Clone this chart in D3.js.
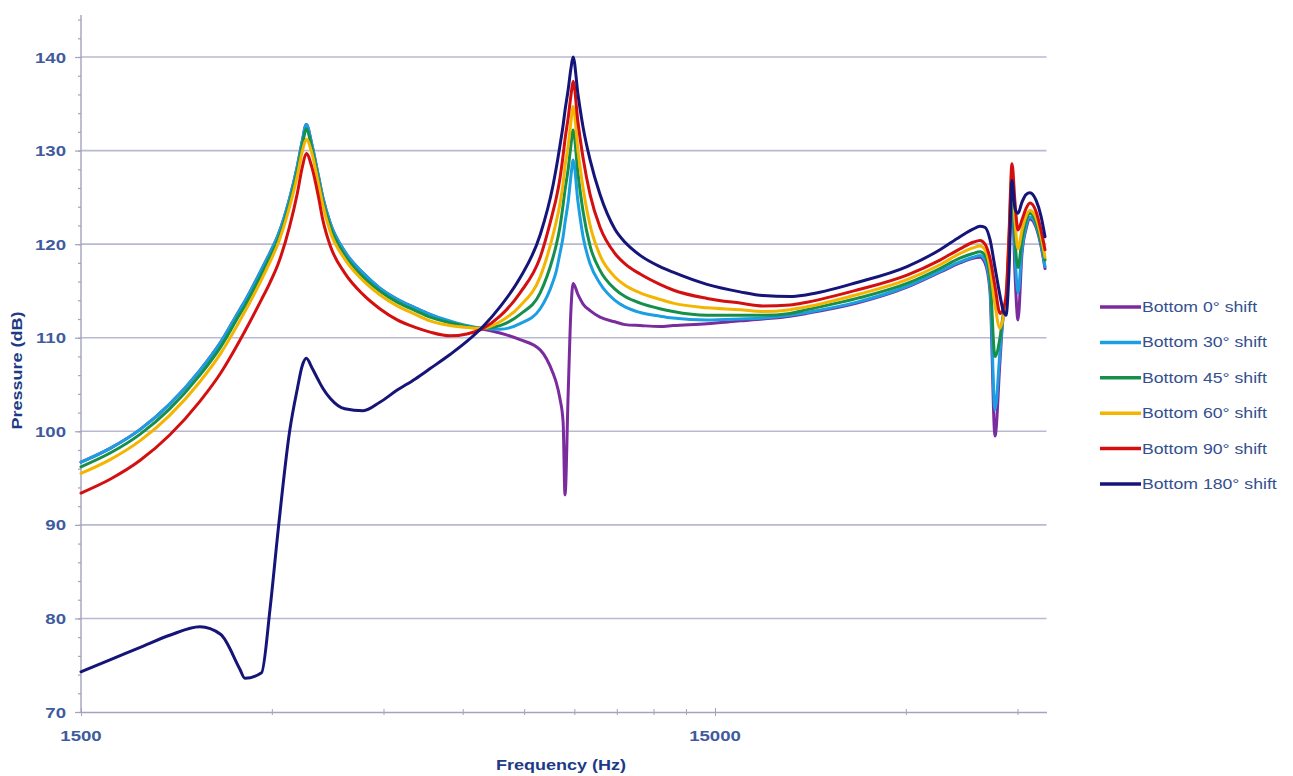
<!DOCTYPE html>
<html>
<head>
<meta charset="utf-8">
<script src="https://cdn.jsdelivr.net/npm/d3@7"></script>
<style>
  html, body { margin: 0; padding: 0; background: #fff; }
  svg { display: block; font-family: "Liberation Sans", Arial, sans-serif; }
</style>
</head>
<body>
<svg id="chart" width="1293" height="776"></svg>
<script>
// Frequency sample points (Hz), shared by all series
const frequency = [
  1500, 1670, 1860, 2070, 2310, 2490, 2670, 2720, 2890, 2980,
  3070, 3200, 3290, 3350, 3400, 3470, 3550, 3610, 3710, 3910,
  4180, 4440, 4730, 5050, 5330, 5730, 6090, 6460, 6870, 7390,
  7950, 8330, 8420, 8540, 8640, 8700, 8800, 8890, 8960, 9120,
  9290, 9530, 9880, 10430, 10820, 11430, 12280, 12880, 14570, 16430,
  17860, 19700, 20950, 25120, 30130, 33960, 36520, 38280, 39270, 39990,
  40720, 41470, 42230, 42690, 43160, 43630, 44110, 44590, 45080, 45740,
  46410, 47090, 48130, 49010, 49730
];

// Sound pressure level (dB) for each bottom phase shift
const shift0 = [
  96.7, 98.2, 100.2, 102.9, 106.5, 109.5, 113.0, 113.9, 117.3, 119.1,
  121.0, 124.9, 128.3, 131.0, 132.8, 130.6, 127.4, 125.0, 122.2, 119.2,
  116.9, 115.3, 114.1, 113.2, 112.5, 111.7, 111.2, 110.9, 110.5, 109.8,
  108.7, 106.2, 105.3, 103.5, 101.0, 93.2, 104.0, 113.0, 115.8, 114.6,
  113.6, 112.9, 112.2, 111.7, 111.4, 111.3, 111.2, 111.3, 111.5, 111.8,
  112.0, 112.3, 112.6, 113.7, 115.4, 117.0, 118.0, 118.5, 118.6, 118.0,
  115.0, 99.5, 107.5, 112.0, 113.0, 119.0, 126.0, 117.0, 111.9, 119.0,
  121.6, 122.7, 121.8, 119.8, 117.4
];
const shift30 = [
  96.7, 98.2, 100.2, 102.9, 106.5, 109.5, 113.0, 113.9, 117.3, 119.1,
  121.0, 124.9, 128.3, 131.0, 132.8, 130.6, 127.4, 125.0, 122.2, 119.2,
  116.9, 115.3, 114.1, 113.2, 112.5, 111.8, 111.3, 111.0, 110.9, 111.5,
  113.1, 116.0, 117.0, 119.0, 120.8, 122.3, 124.5, 127.3, 129.0, 124.5,
  120.8, 117.9, 115.8, 114.0, 113.3, 112.7, 112.3, 112.1, 111.9, 112.0,
  112.1, 112.4, 112.7, 113.8, 115.5, 117.1, 118.1, 118.6, 118.8, 118.3,
  115.5, 102.3, 108.5, 112.0, 113.0, 119.5, 126.3, 119.0, 114.8, 119.5,
  121.9, 122.9, 122.0, 120.0, 117.6
];
const shift45 = [
  96.2, 97.7, 99.7, 102.4, 106.0, 109.0, 112.5, 113.4, 116.8, 118.6,
  120.5, 124.4, 127.8, 130.5, 132.3, 130.2, 127.0, 124.6, 121.8, 118.8,
  116.5, 115.0, 113.8, 112.9, 112.2, 111.6, 111.2, 111.0, 111.3, 112.5,
  114.8, 118.6, 119.8, 121.8, 124.2, 125.8, 128.0, 130.6, 132.2, 127.5,
  123.5, 119.8, 117.2, 115.2, 114.4, 113.7, 113.1, 112.8, 112.4, 112.4,
  112.4, 112.6, 113.0, 114.2, 115.8, 117.4, 118.5, 119.0, 119.2, 118.8,
  116.5, 108.0, 110.0, 112.3, 113.5, 120.0, 127.0, 120.5, 117.5, 120.5,
  122.5, 123.3, 122.3, 120.3, 118.3
];
const shift60 = [
  95.5, 97.0, 99.0, 101.7, 105.3, 108.3, 111.8, 112.8, 116.2, 118.1,
  120.1, 124.0, 127.3, 129.9, 131.2, 129.7, 126.6, 124.2, 121.3, 118.4,
  116.1, 114.6, 113.4, 112.5, 111.8, 111.3, 111.1, 111.0, 111.7, 113.4,
  116.5, 121.0, 122.3, 124.3, 126.5, 128.3, 130.5, 133.1, 134.7, 130.0,
  126.0, 122.0, 118.8, 116.5, 115.6, 114.8, 114.1, 113.7, 113.2, 113.0,
  112.8, 113.0, 113.3, 114.6, 116.2, 117.8, 119.0, 119.6, 119.8, 119.4,
  117.5, 113.5, 111.0, 112.0, 114.0, 120.5, 127.6, 122.5, 119.5, 121.5,
  123.0, 123.6, 122.8, 120.8, 118.6
];
const shift90 = [
  93.4, 94.9, 96.9, 99.6, 103.2, 106.2, 109.7, 110.7, 114.1, 115.9,
  117.9, 121.9, 125.4, 128.2, 129.7, 128.2, 125.2, 122.6, 119.8, 116.9,
  114.6, 113.1, 111.9, 111.1, 110.6, 110.2, 110.4, 111.0, 112.3, 114.8,
  118.6, 123.5, 124.8, 127.0, 129.5, 131.2, 133.5, 135.9, 137.4, 133.0,
  129.2, 125.3, 121.8, 119.0, 117.9, 116.8, 115.7, 115.1, 114.2, 113.7,
  113.4, 113.5, 113.8, 115.1, 116.7, 118.3, 119.5, 120.2, 120.4, 120.0,
  118.5, 115.5, 112.6, 113.0, 114.5, 121.0, 128.6, 124.5, 121.5, 122.6,
  123.8, 124.4, 123.5, 121.5, 119.4
];
const shift180 = [
  74.3, 75.6, 76.9, 78.2, 79.1, 78.3, 74.6, 73.6, 74.2, 81.0,
  89.5, 100.0, 104.5, 107.0, 107.8, 106.8, 105.5, 104.6, 103.5, 102.4,
  102.2, 103.1, 104.4, 105.6, 106.7, 108.2, 109.6, 111.2, 113.3, 116.4,
  121.0, 126.3, 128.0, 130.5, 132.7, 134.3, 136.5, 138.8, 140.0, 136.0,
  132.5, 129.0, 125.3, 121.6, 120.2, 118.8, 117.6, 117.0, 115.7, 114.9,
  114.5, 114.4, 114.6, 115.9, 117.6, 119.4, 120.8, 121.6, 121.9, 121.8,
  120.5, 117.5, 114.5, 113.0, 112.4, 117.0, 126.8, 123.8, 123.3, 124.5,
  125.3, 125.5, 124.7, 123.0, 120.8
];

const seriesNames = [
  "Bottom 0° shift", "Bottom 30° shift", "Bottom 45° shift",
  "Bottom 60° shift", "Bottom 90° shift", "Bottom 180° shift"
];
const seriesValues = [shift0, shift30, shift45, shift60, shift90, shift180];
const seriesColors = ["#7a2c9e", "#1c9fe2", "#15904c", "#f4b400", "#d30f0f", "#141479"];

const yTicks = [70, 80, 90, 100, 110, 120, 130, 140];
const yMinorTicks = d3.range(70, 146, 2);
const xTickLabels = [1500, 15000];
const xMinorTicks = [3000, 4500, 6000, 7500, 9000, 10500, 12000, 13500, 30000, 45000];

const svg = d3.select("#chart");
const left = 81, bottom = 712;

const x = d3.scaleLog().domain([1500, 50000]).range([left, left + 634 * Math.log10(50000 / 1500)]);
const y = d3.scaleLinear().domain([70, 145]).range([bottom, bottom - 75 * 9.357]);

const axisColor = "#a3a3bd";
const gridColor = "#b9b9d0";
const labelColor = "#3f5b9e";
const titleColor = "#1d3a86";
const stretch = 1.2; // text is set slightly wide

// Horizontal gridlines
svg.append("g")
  .selectAll("line")
  .data(yTicks.filter(d => d > 70))
  .join("line")
  .attr("x1", left).attr("x2", x.range()[1])
  .attr("y1", d => y(d)).attr("y2", d => y(d))
  .attr("stroke", gridColor).attr("stroke-width", 1.6);

// Y axis: minor ticks every 2 dB, longer ticks at labelled values
const yAxis = svg.append("g").attr("transform", `translate(${left},0)`);
yAxis.call(d3.axisLeft(y).tickValues(yMinorTicks).tickSize(3).tickFormat(""));
yAxis.select(".domain").remove();
yAxis.selectAll("line").attr("stroke", axisColor).attr("stroke-width", 1.2);
yAxis.append("line")
  .attr("x1", 0).attr("x2", 0)
  .attr("y1", y(70)).attr("y2", y(144.5))
  .attr("stroke", axisColor).attr("stroke-width", 1.4);
const yMajor = svg.append("g").attr("transform", `translate(${left},0)`)
  .call(d3.axisLeft(y).tickValues(yTicks).tickSize(6).tickFormat(""));
yMajor.select(".domain").remove();
yMajor.selectAll("line").attr("stroke", axisColor).attr("stroke-width", 1.2);

svg.append("g")
  .selectAll("text")
  .data(yTicks)
  .join("text")
  .attr("transform", d => `translate(66,${y(d) + 5.5}) scale(${stretch},1)`)
  .attr("text-anchor", "end")
  .attr("fill", labelColor).attr("font-size", 15.5).attr("font-weight", "bold")
  .text(d => d);

// X axis: minor ticks at multiples of 1500 Hz
const xAxis = svg.append("g").attr("transform", `translate(0,${bottom})`);
xAxis.call(d3.axisBottom(x).tickValues(xMinorTicks).tickSizeInner(3).tickSizeOuter(0).tickFormat(""));
xAxis.select(".domain").attr("stroke", axisColor).attr("stroke-width", 1.4);
xAxis.selectAll(".tick line").attr("stroke", axisColor).attr("y1", -3).attr("y2", 3);
const xMajor = svg.append("g").attr("transform", `translate(0,${bottom})`)
  .call(d3.axisBottom(x).tickValues(xTickLabels).tickSizeInner(4).tickSizeOuter(0).tickFormat(""));
xMajor.select(".domain").remove();
xMajor.selectAll("line").attr("stroke", axisColor).attr("y1", -4).attr("y2", 4);

svg.append("g")
  .selectAll("text")
  .data(xTickLabels)
  .join("text")
  .attr("transform", d => `translate(${x(d)},${bottom + 29}) scale(${stretch},1)`)
  .attr("text-anchor", "middle")
  .attr("fill", labelColor).attr("font-size", 15.5).attr("font-weight", "bold")
  .text(d3.format("d"));

// Axis titles
svg.append("text")
  .attr("transform", `translate(22,${y(106.5)}) rotate(-90) scale(${stretch},1)`)
  .attr("text-anchor", "middle")
  .attr("fill", titleColor).attr("font-size", 15).attr("font-weight", "bold")
  .text("Pressure (dB)");
svg.append("text")
  .attr("transform", `translate(561,770) scale(${stretch},1)`)
  .attr("text-anchor", "middle")
  .attr("fill", titleColor).attr("font-size", 15).attr("font-weight", "bold")
  .text("Frequency (Hz)");

// Response curves
const line = d3.line()
  .x((d, i) => x(frequency[i]))
  .y(d => y(d))
  .curve(d3.curveMonotoneX);

svg.append("g")
  .selectAll("path")
  .data(seriesValues)
  .join("path")
  .attr("d", d => line(d))
  .attr("fill", "none")
  .attr("stroke", (d, i) => seriesColors[i])
  .attr("stroke-width", 3)
  .attr("stroke-linejoin", "round")
  .attr("stroke-linecap", "round");

// Legend
const legend = svg.append("g").attr("transform", "translate(1100,307)");
const rows = legend.selectAll("g")
  .data(seriesNames)
  .join("g")
  .attr("transform", (d, i) => `translate(0,${i * 35.4})`);
rows.append("line")
  .attr("x1", 0).attr("x2", 41).attr("y1", 0).attr("y2", 0)
  .attr("stroke", (d, i) => seriesColors[i]).attr("stroke-width", 3.5);
rows.append("text")
  .attr("transform", `translate(42,5) scale(${stretch + 0.02},1)`)
  .attr("fill", "#34508f").attr("font-size", 14.5)
  .text(d => d);
</script>
</body>
</html>
